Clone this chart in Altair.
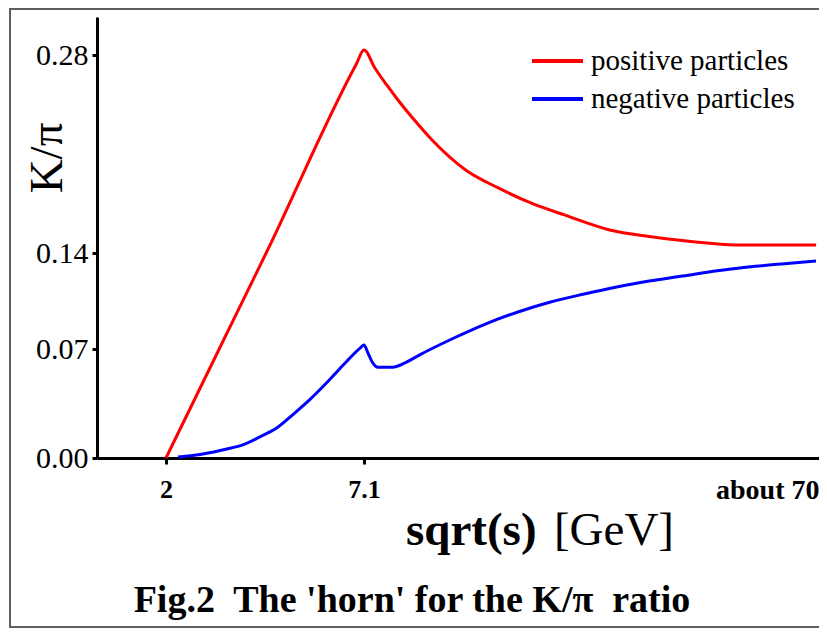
import altair as alt
import pandas as pd

# ---- data ----
series_names = ["positive particles", "negative particles"]
series_colors = ["#ff0000", "#0000ff"]

pos_x = [2.0, 3.37, 4.58, 6.9, 7.1, 8.60, 10.24, 12.01, 14.06, 16.51, 21.15, 25.66,
         30.16, 34.80, 41.07, 46.53, 51.17, 52.94, 58.40, 69.6]
pos_y = [0.0, 0.07, 0.14, 0.2735, 0.2835, 0.2708, 0.2588, 0.2468, 0.2340, 0.2199, 0.1987,
         0.1860, 0.1754, 0.1669, 0.1563, 0.1517, 0.1488, 0.1478, 0.1457, 0.1457]

neg_x = [2.31, 2.95, 3.57, 3.98, 4.42, 4.86, 5.27, 5.71, 6.15, 6.56, 7.0, 7.1,
         7.65, 8.33, 9.01, 11.06, 12.97, 14.74, 19.24, 23.88, 28.38, 32.89,
         37.53, 42.03, 46.53, 51.17, 55.67, 60.18, 64.81, 69.59]
neg_y = [0.0006, 0.0026, 0.0058, 0.0084, 0.0136, 0.0194, 0.0279, 0.0376, 0.0486,
         0.0596, 0.0707, 0.0729, 0.0674, 0.0609, 0.0583, 0.0583, 0.0616, 0.0661,
         0.0773, 0.0882, 0.0970, 0.1043, 0.1101, 0.1152, 0.1196, 0.1232, 0.1269,
         0.1298, 0.1320, 0.1342]

x_ticks = [2, 7.1, 70]
y_ticks = [0.0, 0.07, 0.14, 0.28]

x_title_bold = "sqrt(s)"
x_title_unit = "[GeV]"
y_title = "K/π"
caption = "Fig.2\u00a0 The 'horn' for the K/π\u00a0 ratio"

FONT = "Liberation Serif"

df = pd.concat([
    pd.DataFrame({"x": pos_x, "y": pos_y, "series": series_names[0]}),
    pd.DataFrame({"x": neg_x, "y": neg_y, "series": series_names[1]}),
], ignore_index=True)

W, H = 722, 441

x_scale = alt.Scale(domain=[0.223, 2, 7.1, 70], range=[0, 69, 267, W], nice=False, zero=False)
y_scale = alt.Scale(domain=[0, 0.07, 0.14, 0.28, 0.307], range=[H, 332, 236, 38, 0], nice=False, zero=False)

is70 = "datum.value == 70"

x_axis = alt.Axis(
    values=x_ticks,
    labelExpr="datum.value == 70 ? 'about 70' : format(datum.value, '~g')",
    labelFont=FONT, labelFontSize={"condition": {"test": is70, "value": 28}, "value": 26},
    labelFontWeight="bold", labelColor="black",
    labelAlign={"condition": {"test": is70, "value": "right"}, "value": "center"},
    tickColor={"condition": {"test": is70, "value": "transparent"}, "value": "black"},
    tickWidth=3, tickSize=6, domainColor="black", domainWidth=3,
    labelPadding=12, grid=False, title=None, labelFlush=False,
    labelOverlap=False, labelBound=False,
)
y_axis = alt.Axis(
    values=y_ticks, format=".2f",
    labelFont=FONT, labelFontSize=30, labelColor="black",
    tickColor="black", tickWidth=3, tickSize=5, domainColor="black", domainWidth=3,
    labelPadding=4, grid=False, title=None,
)

lines = alt.Chart(df).mark_line(strokeWidth=3, clip=False, interpolate="monotone").encode(
    x=alt.X("x:Q", scale=x_scale, axis=x_axis),
    y=alt.Y("y:Q", scale=y_scale, axis=y_axis),
    color=alt.Color(
        "series:N",
        scale=alt.Scale(domain=series_names, range=series_colors),
        legend=alt.Legend(
            orient="none", legendX=433, legendY=29, title=None,
            symbolType="stroke", symbolSize=2601, symbolStrokeWidth=4,
            labelFont=FONT, labelFontSize=29, labelColor="black", labelLimit=0,
            labelOffset=6, clipHeight=30, rowPadding=8, padding=0,
            symbolOffset=0,
        ),
    ),
    order=alt.Order("x:Q"),
)

one = alt.Data(values=[{"a": 1}])

frame = alt.Chart(one).mark_rect(fill=None, stroke="#5f5f5f", strokeWidth=2).encode(
    x=alt.value(-87), x2=alt.value(740), y=alt.value(-8), y2=alt.value(610)
)

t_sqrt = alt.Chart(one).mark_text(
    text=x_title_bold, font=FONT, fontSize=47, fontWeight="bold", align="left",
    baseline="alphabetic", color="black"
).encode(x=alt.value(309), y=alt.value(528))

t_unit = alt.Chart(one).mark_text(
    text=x_title_unit, font=FONT, fontSize=47, fontWeight="normal", align="right",
    baseline="alphabetic", color="black"
).encode(x=alt.value(577), y=alt.value(528))

t_y = alt.Chart(one).mark_text(
    text=y_title, font=FONT, fontSize=47, align="center", baseline="alphabetic",
    angle=270, color="black"
).encode(x=alt.value(-35), y=alt.value(141))

t_cap = alt.Chart(one).mark_text(
    text=caption, font=FONT, fontSize=38, fontWeight="bold", align="center",
    baseline="alphabetic", color="black"
).encode(x=alt.value(315), y=alt.value(595))

chart = alt.layer(frame, lines, t_sqrt, t_unit, t_y, t_cap).properties(
    width=W, height=H,
    autosize=alt.AutoSizeParams(type="none"),
    padding={"left": 89, "top": 9, "right": 0, "bottom": 170},
    background="white",
).configure_view(stroke=None)

chart.save("out.html", embed_options={"renderer": "svg", "actions": False})
